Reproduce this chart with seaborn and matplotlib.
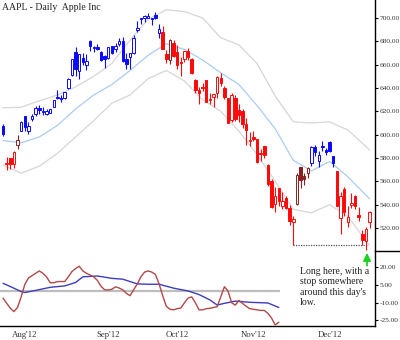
import numpy as np
import pandas as pd
import matplotlib
matplotlib.use("Agg")
import matplotlib.pyplot as plt
import seaborn as sns
from matplotlib.lines import Line2D

sns.set_style("white")
plt.rcParams["font.family"] = ["Liberation Serif", "DejaVu Serif"]

# ---- daily AAPL bars, 24 Jul 2012 - 18 Dec 2012 ----
dates = pd.bdate_range("2012-07-24", "2012-12-18")
holidays = pd.to_datetime(["2012-09-03", "2012-10-29", "2012-10-30", "2012-11-22"])
dates = dates[~dates.isin(holidays)]

opens = [607.4, 574.5, 579.7, 575.0, 590.9, 603.2, 615.9, 602.8, 613.6, 617.3,
         622.8, 619.4, 617.8, 618.7, 623.4, 631.9, 631.3, 631.2, 640.0, 650.8,
         670.8, 654.4, 666.1, 659.5, 679.9, 674.1, 675.2, 670.6, 667.3, 665.8,
         675.6, 673.2, 678.0, 680.5, 665.1, 666.8, 670.4, 689.9, 699.4, 699.9,
         700.3, 699.2, 702.4, 686.9, 688.3, 668.7, 664.3, 678.7, 671.2, 661.8,
         664.9, 671.3, 665.2, 646.9, 638.7, 639.7, 646.5, 629.6, 632.4, 635.4,
         648.9, 639.6, 631.1, 612.4, 631.0, 621.4, 620.0, 609.4, 594.9, 598.2,
         595.9, 583.5, 590.2, 573.8, 560.6, 540.4, 554.2, 538.9, 545.5, 537.5,
         525.2, 540.7, 571.9, 564.3, 567.2, 575.9, 589.6, 577.3, 590.2, 586.8,
         593.6, 581.8, 568.9, 528.9, 553.4, 525.0, 539.8, 547.8, 531.2, 514.8,
         508.9, 525.0]
highs = [609.0, 580.8, 580.4, 585.8, 599.4, 611.7, 616.4, 610.7, 617.9, 624.9,
         625.0, 623.9, 621.7, 621.8, 630.0, 638.6, 634.0, 636.8, 648.2, 665.2,
         674.9, 669.0, 669.9, 669.0, 680.9, 676.1, 677.7, 671.6, 668.6, 675.1,
         676.4, 678.3, 682.5, 683.3, 670.1, 669.9, 685.5, 697.0, 699.8, 702.3,
         704.0, 700.2, 705.1, 695.1, 692.8, 672.7, 682.2, 681.1, 676.8, 666.4,
         671.9, 674.3, 666.0, 647.6, 640.5, 644.0, 647.2, 635.4, 635.1, 650.3,
         652.8, 642.1, 631.8, 635.4, 633.9, 626.6, 622.0, 614.0, 602.2, 603.0,
         596.3, 587.7, 590.7, 574.5, 562.2, 554.9, 554.5, 550.5, 547.5, 539.5,
         530.0, 567.5, 571.9, 567.4, 572.0, 590.0, 591.5, 585.8, 594.3, 588.4,
         594.6, 581.8, 569.0, 550.7, 555.0, 538.5, 549.6, 548.0, 537.6, 518.6,
         520.6, 534.9]
lows = [598.5, 570.0, 570.4, 571.6, 587.4, 603.0, 603.0, 600.3, 611.6, 616.1,
        618.0, 617.1, 617.1, 618.7, 623.3, 630.2, 627.8, 630.5, 638.8, 649.9,
        650.3, 648.1, 659.6, 655.6, 671.6, 670.7, 672.6, 662.8, 657.3, 664.5,
        669.4, 670.8, 675.8, 662.6, 656.5, 656.0, 669.1, 687.9, 694.6, 696.4,
        699.6, 693.6, 699.4, 682.8, 673.0, 661.2, 660.4, 666.8, 656.5, 650.3,
        662.6, 663.7, 651.6, 636.1, 625.9, 637.0, 628.1, 626.4, 623.9, 631.0,
        642.0, 630.6, 609.6, 610.8, 611.7, 610.6, 605.6, 591.0, 590.7, 594.2,
        575.3, 577.6, 580.1, 555.8, 537.4, 533.7, 538.7, 536.4, 536.1, 522.6,
        505.8, 539.9, 554.2, 556.6, 562.6, 573.1, 582.0, 572.3, 586.3, 582.7,
        585.5, 572.1, 538.8, 515.0, 530.4, 521.1, 537.4, 536.3, 525.8, 505.5,
        501.2, 520.2]
closes = [600.9, 575.0, 574.9, 585.2, 595.0, 610.8, 606.8, 607.8, 615.7, 622.6,
          620.9, 619.9, 620.7, 621.7, 630.0, 631.7, 630.8, 636.3, 648.1, 665.2,
          656.1, 668.9, 662.6, 663.2, 675.7, 674.8, 673.5, 663.9, 665.2, 675.0,
          670.2, 676.3, 680.4, 662.7, 660.6, 669.8, 683.0, 691.3, 699.8, 701.9,
          702.1, 698.7, 700.1, 690.8, 673.5, 665.2, 681.3, 667.1, 659.4, 661.3,
          671.5, 666.8, 652.6, 638.2, 635.9, 640.9, 628.1, 629.7, 634.8, 649.8,
          644.6, 632.6, 609.8, 634.0, 613.4, 616.8, 609.5, 604.0, 595.3, 596.5,
          576.8, 584.6, 582.9, 558.0, 537.8, 547.1, 542.8, 542.9, 536.9, 525.6,
          527.7, 565.7, 560.9, 561.7, 571.5, 589.5, 584.8, 582.9, 589.4, 585.3,
          586.2, 575.9, 538.8, 547.2, 533.3, 529.8, 541.4, 539.0, 529.7, 509.8,
          518.8, 533.9]

# bar colouring: B = blue, R = red, D = dark red
tone = ("B" + "RRR" + "D" + "B" * 39 + "RR" + "D" + "R" * 34 +
        "DDDD" + "B" * 7 + "R" * 10)
tone_colors = {"B": "#0a0aff", "R": "#ff0a0a", "D": "#8c1f1f"}

# Bollinger bands (every fifth bar)
band_idx = [0, 5, 10, 15, 20, 25, 30, 35, 40, 45, 50, 55, 60, 65, 70, 75, 80, 85, 90, 95, 101]
band_mid = [595, 593, 598, 608, 622, 634, 643, 655, 668, 678, 673, 664, 653, 643, 625,
            605, 578, 569, 577, 564, 545]
band_up = [623, 623.5, 629, 634, 641, 650, 661, 681, 699, 707, 705.5, 700, 683, 677, 661,
           633, 611, 610, 611, 604, 587]
band_lo = [574, 567, 573, 584, 598, 612, 627, 634, 648, 655, 646, 630, 620, 603, 583,
           560, 536, 533, 540, 530, 505]

# oscillator panel
osc_fast = [-6, -10.4, -14.5, -17.5, -14, -5, 5.5, 11, 13, 15,
            17, 15, 12, 7, 7, 8, 8, 8, 12, 16.5,
            19, 21, 17, 15, 13.5, 12, 9, 4, 1, 0.8,
            1.5, 3.5, 2.5, 1, -2, -4, 1, 6, 12, 16,
            17, 16, 14, 6, -4, -13, -15.5, -16, -15, -14.5,
            -10, -6, -5, -10, -16, -16, -15, -14.7, -14, -13.3,
            -5, 3.6, 0, -10, -12, -8, -10.5, -13, -15, -15.5,
            -16, -16.5, -16.5, -19, -23, -28.8, -26.5]
slow_idx = [0, 2, 5, 6, 9, 13, 17, 20, 22, 26, 30, 33, 37, 40, 43, 47, 51, 54, 57,
            59, 61, 64, 68, 73, 76]
osc_slow = [6.5, 3.8, -0.5, -1.3, 0.5, 3.1, 4.3, 7.2, 12, 12.7, 10.7, 10, 6, 5.7, 5.7,
            2.4, 0, -3, -7.6, -11.9, -10.5, -8.6, -9.6, -10.2, -14]

price_ticks = [520, 540, 560, 580, 600, 620, 640, 660, 680, 700]
osc_ticks = [20, 5, -10, -25]
osc_tick_labels = ["20.00", "5.00", "-10.00", "-25.00"]

W, H = 400, 340
fig = plt.figure(figsize=(W / 100, H / 100), dpi=100)
ax = fig.add_axes([0, 1 - 251 / H, 375 / W, 251 / H])
axo = fig.add_axes([0, 1 - 326 / H, 375 / W, 75 / H])

# bands
sns.lineplot(x=band_idx, y=band_up, ax=ax, color="#d6d6d6", lw=0.9, zorder=1)
sns.lineplot(x=band_idx, y=band_lo, ax=ax, color="#d6d6d6", lw=0.9, zorder=1)
sns.lineplot(x=band_idx, y=band_mid, ax=ax, color="#acccf2", lw=0.9, zorder=1)

# candles
idx = np.arange(len(closes))
for i in idx:
    o, h, l, c = opens[i], highs[i], lows[i], closes[i]
    col = tone_colors[tone[i]]
    ax.vlines(i, l, h, color=col, lw=0.8, zorder=3)
    b0, b1 = min(o, c), max(o, c)
    height = max(b1 - b0, 0.9)
    hollow = c >= o
    ax.bar(i, height, bottom=b0, width=0.68,
           facecolor="white" if hollow else col, edgecolor=col,
           lw=0.7, zorder=4)

# support line from the November low
ax.hlines(lows[80], 80, 100.6, colors="#555555", linestyles=(0, (1, 1)), lw=0.9, zorder=2)

ax.set_xlim(-0.83, 102.5)
ax.set_ylim(500.3, 715.4)
axo.set_xlim(-0.83, 102.5)
axo.set_ylim(-29.7, 33.9)

# oscillator lines
axo.hlines(0, -0.83, 76.3, colors="#bdbdbd", lw=1.6, zorder=1)
sns.lineplot(x=list(range(len(osc_fast))), y=osc_fast, ax=axo, color="#b24848", lw=1.0, zorder=3)
sns.lineplot(x=slow_idx, y=osc_slow, ax=axo, color="#3c3cc0", lw=1.0, zorder=2)

# axes styling
for a in (ax, axo):
    a.set_xlabel("")
    a.set_ylabel("")
    a.set_facecolor("none")
    for s in ("top", "left", "bottom"):
        a.spines[s].set_visible(False)
    a.spines["right"].set_visible(True)
    a.spines["right"].set_color("black")
    a.spines["right"].set_linewidth(1.0)
    a.yaxis.tick_right()
    a.tick_params(axis="y", direction="out", length=2.5, width=0.8, labelsize=5.3,
                  pad=0.8, colors="black", labelcolor="#333333")

axo.spines["bottom"].set_visible(True)
axo.spines["bottom"].set_color("black")
axo.spines["bottom"].set_linewidth(1.0)

ax.set_yticks(price_ticks)
ax.set_yticklabels([f"{v:.2f}" for v in price_ticks])
ax.tick_params(axis="x", bottom=False, labelbottom=False)

axo.set_yticks(osc_ticks)
axo.set_yticklabels(osc_tick_labels)

# month and week ticks
months = pd.Series(dates.to_period("M"))
month_pos = [i for i in range(1, len(dates)) if months[i] != months[i - 1]]
month_lab = [dates[i].strftime("%b'%y") for i in month_pos]
weeks = pd.Series(dates.to_period("W"))
week_pos = [i for i in range(1, len(dates)) if weeks[i] != weeks[i - 1]
            and min(abs(i - m) for m in month_pos) > 3]
axo.set_xticks(month_pos)
axo.set_xticklabels(month_lab)
axo.set_xticks(week_pos, minor=True)
axo.tick_params(axis="x", which="both", direction="out", length=3, width=0.8,
                labelsize=6.3, pad=0.5, colors="black", labelcolor="#333333")

# separator between panels on the scale side
fig.add_artist(Line2D([375 / W, 1], [1 - 251 / H] * 2, color="black", lw=1.0))

fig.text(2 / W, 1 - 8 / H, "AAPL - Daily  Apple Inc", fontsize=7, va="center",
         ha="left", color="#222222")
fig.text(300 / W, 1 - 267 / H, "Long here, with a\nstop somewhere\naround this day's\nlow.",
         fontsize=7, va="top", ha="left", linespacing=1.2, color="#222222")

axo.annotate("", xy=(100.3, 32.4), xytext=(100.3, 21.5),
             arrowprops=dict(arrowstyle="-|>,head_width=0.22,head_length=0.45",
                             color="#1fd21f", lw=1.3, shrinkA=0, shrinkB=0),
             annotation_clip=False)

fig.savefig("out.png", dpi=100)
